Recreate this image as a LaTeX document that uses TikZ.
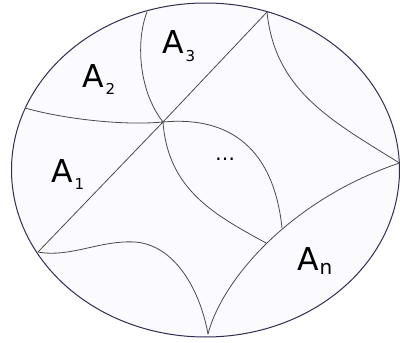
\documentclass[tikz,border=0pt]{standalone}
\usepackage{fontspec}
\setmainfont{DejaVu Sans}
\definecolor{regionfill}{HTML}{FAFAFF}
\definecolor{rim}{HTML}{2E2E52}
\definecolor{cut}{HTML}{4A4A4A}
\newcommand\sublab[2]{A\kern1.5pt\raisebox{-#1}{\fontsize{15}{15}\selectfont #2}}
\begin{document}
\begin{tikzpicture}[x=1pt,y=-1pt,
  rimline/.style={draw=rim,line width=1pt,fill=regionfill},
  cutline/.style={draw=cut,line width=0.8pt},
  lab/.style={anchor=base west,inner sep=0pt,font=\fontsize{31.5}{32}\selectfont}]
\useasboundingbox (0,0) rectangle (400,343);
\draw[rimline] (205.5,170) ellipse [x radius=194, y radius=167];
\coordinate (T3) at (147,12);
\coordinate (TR) at (267,12);
\coordinate (L) at (25,108);
\coordinate (C) at (163,122);
\coordinate (BL) at (38,252);
\coordinate (B) at (208,334);
\coordinate (R) at (399.5,163);
\coordinate (M1) at (282,228);
\coordinate (M2) at (266,243);
\draw[cutline] (BL) -- (C) -- (TR);
\draw[cutline] (T3) .. controls (136,40) and (138,90) .. (C);
\draw[cutline] (L) .. controls (60,118) and (120,126) .. (C);
\draw[cutline] (C) .. controls (240,115) and (275,160) .. (M1);
\draw[cutline] (C) .. controls (168,190) and (215,215) .. (M2);
\draw[cutline] (BL) .. controls (70,258) and (100,240) .. (135,242)
  .. controls (175,245) and (200,290) .. (B);
\draw[cutline] (B) .. controls (222,280) and (290,200) .. (R);
\draw[cutline] (TR) .. controls (275,90) and (330,120) .. (R);
\node[lab] (a2) at (82.5,87) {\sublab{7pt}{2}};
\node[lab] (a3) at (162.5,53) {\sublab{8pt}{3}};
\node[lab] (a1) at (51.5,182) {\sublab{7pt}{1}};
\node[lab] (an) at (297.5,270) {A\kern0.5pt\raisebox{-4pt}{\fontsize{20}{20}\selectfont n}};
\node[anchor=base,inner sep=0pt,font=\fontsize{20}{20}\selectfont] (dots) at (225,160.5) {…};
\end{tikzpicture}
\end{document}
